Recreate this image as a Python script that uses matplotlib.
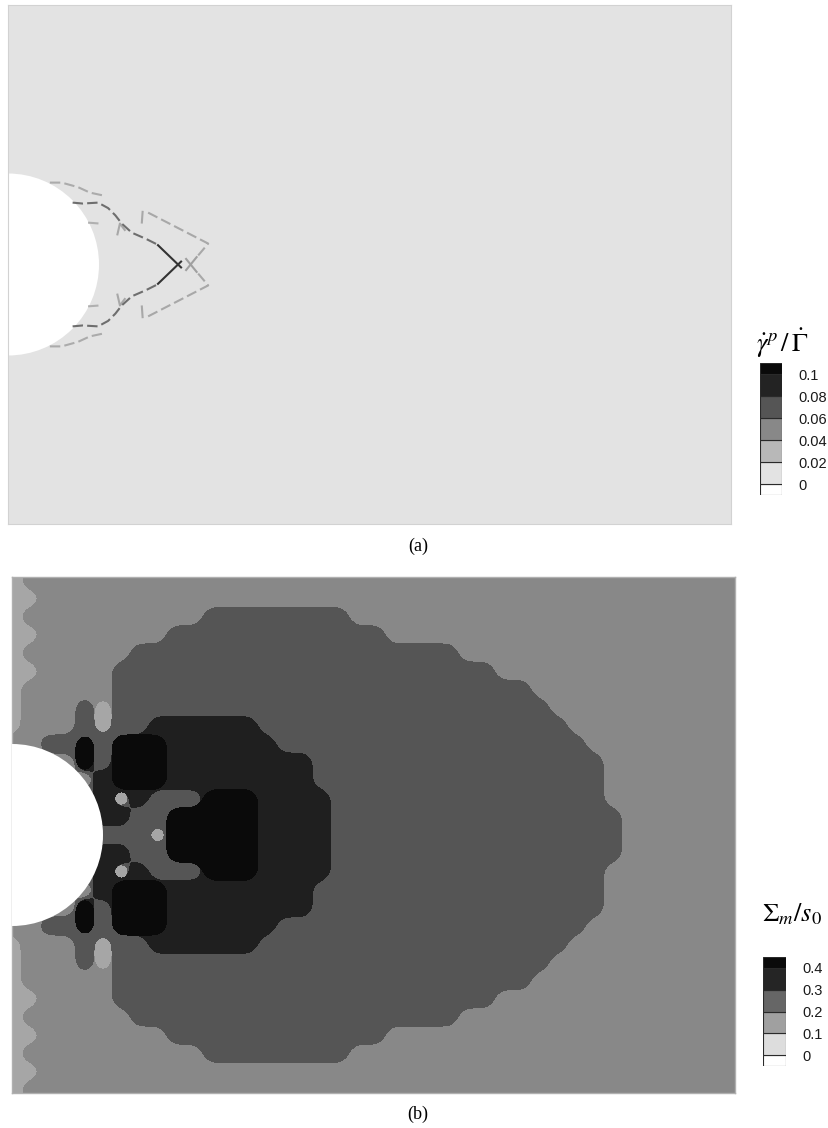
import numpy as np
import matplotlib

matplotlib.use("Agg")
import matplotlib.pyplot as plt
from matplotlib.patches import Circle

plt.rcParams["mathtext.fontset"] = "stix"

# coordinates are in units of the hole radius, hole centred at (0, 0)
HOLE_R = 1.0
XMAX = 7.945

# ---------------------------------------------------------------
# (a) plastic slip-rate bands, upper half (mirrored about y = 0)
# ---------------------------------------------------------------
band_light_arc = [(0.46, 0.90), (0.59, 0.90), (0.77, 0.85), (0.90, 0.79), (1.04, 0.76)]
band_main = [(0.71, 0.68), (0.82, 0.67), (0.99, 0.68), (1.10, 0.62), (1.18, 0.54),
             (1.25, 0.45), (1.36, 0.35), (1.52, 0.28), (1.64, 0.22)]
band_apex = [(1.64, 0.22), (1.91, -0.04)]
band_light_v = [(1.54, 0.57), (2.20, 0.23), (2.09, 0.10)]
band_light_tick = [(1.48, 0.59), (1.47, 0.45)]
band_light_x = [(1.95, 0.07), (2.08, -0.09)]
band_light_small = [(1.20, 0.32), (1.23, 0.45), (1.29, 0.37)]
band_light_dash = [(0.88, 0.46), (1.01, 0.45)]

cbar_a_levels = [0, 0.02, 0.04, 0.06, 0.08, 0.1]
cbar_a_labels = ["0", "0.02", "0.04", "0.06", "0.08", "0.1"]
cbar_a_colors = ["#ffffff", "#e3e3e3", "#b8b8b8", "#888888", "#555555", "#232323", "#0a0a0a"]

# ---------------------------------------------------------------
# (b) mean stress level map, read off on a 0.2 grid
#     row 0 is y = 0, row k is y = 0.2 k (lower half mirrored)
#     1: 0-0.1, 2: 0.1-0.2, 3: 0.2-0.3, 4: 0.3-0.4, 5: > 0.4
# ---------------------------------------------------------------
field_b_rows = [
    "33333333" "1" "55555" "4444" "3333333333333333" "2222222",
    "33333" "4" "4" "33" "55555" "4444" "3333333333333333" "2222222",
    "33333" "4" "1" "4" "333" "555" "4444" "333333333333333" "22222222",
    "3333" "2" "4" "555" "44444444" "3333333333333333" "22222222",
    "2222" "5" "3" "555" "44444444" "3333333333333333" "22222222",
    "22" "33" "5" "3" "555" "444444" "33333333333333333" "222222222",
    "1" "222" "3" "1" "33" "444444" "33333333333333333" "2222222222",
    "1" "222" "3" "1" "333333333333333333333333" "22222222222",
    "1" "22222" "33333333333333333333333" "222222222222",
    "11" "2222" "333333333333333333333" "22222222222222",
    "1" "222222" "333333333333333333" "2222222222222222",
    "11" "2222222" "333333333333" "22222222222222222222",
    "1" "2222222222" "33333333" "2222222222222222222222",
    "11" "222222222222222222222222222222222222222",
    "1" "2222222222222222222222222222222222222222",
    "11" "222222222222222222222222222222222222222",
]
field_b_colors = {1: "#a6a6a6", 2: "#888888", 3: "#555555", 4: "#1f1f1f", 5: "#0a0a0a"}

cbar_b_levels = [0, 0.1, 0.2, 0.3, 0.4]
cbar_b_labels = ["0", "0.1", "0.2", "0.3", "0.4"]
cbar_b_colors = ["#ffffff", "#dddddd", "#a0a0a0", "#666666", "#252525", "#0a0a0a"]

W, H = 829, 1128
fig = plt.figure(figsize=(W / 100, H / 100), dpi=100)


def px_axes(x0, y0, x1, y1):
    return fig.add_axes([x0 / W, 1 - y1 / H, (x1 - x0) / W, (y1 - y0) / H])


def legend_boxes(ax, levels, labels, colors, half):
    edges = [levels[0] - half] + list(levels) + [levels[-1] + half]
    for lo, hi, c in zip(edges[:-1], edges[1:], colors):
        ax.bar(0, hi - lo, bottom=lo, width=1.0, color=c, edgecolor="#2a2a2a", linewidth=0.8)
    ax.set_xlim(-0.5, 0.5)
    ax.set_ylim(edges[0], edges[-1])
    ax.yaxis.tick_right()
    ax.set_yticks(levels, labels)
    ax.set_xticks([])
    ax.tick_params(axis="y", length=0, pad=11.5, labelsize=10.5, labelcolor="#1a1a1a")
    for lab in ax.get_yticklabels():
        lab.set_family("Liberation Sans")
    for s in ax.spines.values():
        s.set_visible(False)


def upsample(a, xs, ys, xf, yf):
    # bilinear, done one axis at a time
    tmp = np.array([np.interp(xf, xs, row) for row in a])
    return np.array([np.interp(yf, ys, col) for col in tmp.T]).T


def blur(a, sig):
    r = int(3 * sig) + 1
    k = np.exp(-0.5 * (np.arange(-r, r + 1) / sig) ** 2)
    k /= k.sum()
    a = np.pad(a, r, mode="edge")
    a = np.apply_along_axis(lambda v: np.convolve(v, k, mode="valid"), 0, a)
    a = np.apply_along_axis(lambda v: np.convolve(v, k, mode="valid"), 1, a)
    return a


# ===============
#  panel (a)
# ===============
axa = px_axes(8, 5, 731, 524)
axa.set_facecolor("#e3e3e3")
axa.set_xlim(0, XMAX)
axa.set_ylim(-2.852, 2.852)
axa.add_patch(Circle((0, 0), HOLE_R, facecolor="white", edgecolor="none", zorder=2))

dash = (0, (5, 2))
bands = [
    (band_light_arc, "#ababab", dash),
    (band_light_dash, "#b0b0b0", dash),
    (band_light_small, "#a8a8a8", "-"),
    (band_light_v, "#a8a8a8", dash),
    (band_light_tick, "#a8a8a8", "-"),
    (band_light_x, "#a0a0a0", "-"),
    (band_main, "#6e6e6e", dash),
    (band_apex, "#333333", "-"),
]
for pts, col, ls in bands:
    bx = np.array([p[0] for p in pts])
    by = np.array([p[1] for p in pts])
    for sgn in (1, -1):
        axa.plot(bx, sgn * by, color=col, lw=1.5, ls=ls, zorder=3, solid_capstyle="butt")

axa.set_xticks([])
axa.set_yticks([])
for s in axa.spines.values():
    s.set_color("#d2d2d2")
    s.set_linewidth(0.8)

cba = px_axes(760, 363, 782, 495)
legend_boxes(cba, cbar_a_levels, cbar_a_labels, cbar_a_colors, 0.01)
fig.text(756 / W, 1 - 343 / H, r"$\dot{\gamma}^{p}\,/\,\dot{\Gamma}$", fontsize=19,
         ha="left", va="center")
fig.text(418 / W, 1 - 546 / H, "(a)", family="Liberation Serif", fontsize=13,
         ha="center", va="center")

# ===============
#  panel (b)
# ===============
axb = px_axes(12, 577, 735, 1093)
grid_up = np.array([[int(c) for c in r] for r in field_b_rows])
xs = np.arange(grid_up.shape[1]) * 0.2
ys_up = np.arange(grid_up.shape[0]) * 0.2
grid = np.vstack([grid_up[:0:-1], grid_up])
ys = np.concatenate([-ys_up[:0:-1], ys_up])

xf = np.linspace(xs[0], xs[-1], 201)
yf = np.linspace(ys[0], ys[-1], 151)
XF, YF = np.meshgrid(xf, yf)

axb.set_facecolor(field_b_colors[1])
for k in range(2, 6):
    ind = blur(upsample((grid >= k).astype(float), xs, ys, xf, yf), 1.2)
    axb.contourf(XF, YF, ind, levels=[0.5, 2.0], colors=[field_b_colors[k]])
axb.add_patch(Circle((0, 0), HOLE_R, facecolor="white", edgecolor="none", zorder=5))
axb.set_xlim(0, XMAX)
axb.set_ylim(-2.835, 2.835)
axb.set_xticks([])
axb.set_yticks([])
for s in axb.spines.values():
    s.set_color("#b0b0b0")
    s.set_linewidth(1.0)

cbb = px_axes(763, 957, 786, 1066)
legend_boxes(cbb, cbar_b_levels, cbar_b_labels, cbar_b_colors, 0.05)
fig.text(762 / W, 1 - 914 / H, r"$\Sigma_{m}/s_{0}$", fontsize=19,
         ha="left", va="center")
fig.text(418 / W, 1 - 1114 / H, "(b)", family="Liberation Serif", fontsize=13,
         ha="center", va="center")

fig.savefig("out.png", dpi=100)
